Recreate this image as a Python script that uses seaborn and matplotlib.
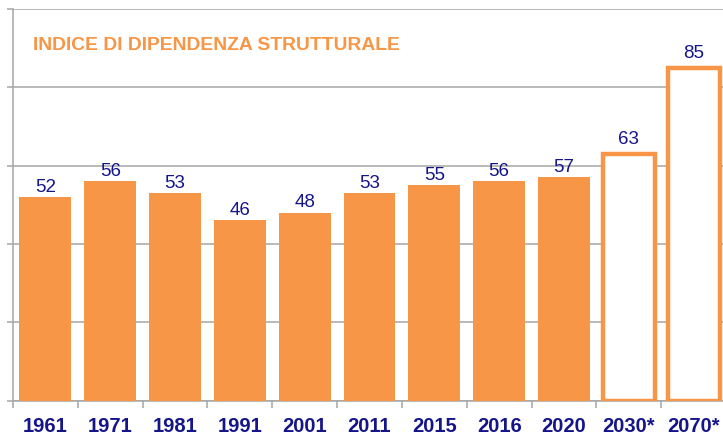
import matplotlib
matplotlib.use("Agg")
import matplotlib.pyplot as plt
import seaborn as sns
import pandas as pd
import numpy as np

# Structural dependency index by year (* = projection)
years = ["1961", "1971", "1981", "1991", "2001", "2011", "2015", "2016", "2020", "2030*", "2070*"]
values = [52, 56, 53, 46, 48, 53, 55, 56, 57, 63, 85]
projected = [False] * 9 + [True, True]

ORANGE = "#F79646"
NAVY = "#15158A"
GRID = "#A6A6A6"

sns.set_theme(style="white")
plt.rcParams["font.family"] = ["Liberation Sans", "DejaVu Sans"]

df = pd.DataFrame({"anno": years, "indice": values, "proiezione": projected})

fig = plt.figure(figsize=(7.23, 4.37), dpi=100)
ax = fig.add_axes([13 / 723, 36.5 / 437, 713 / 723, 391.5 / 437])

sns.barplot(data=df, x="anno", y="indice", color=ORANGE, saturation=1,
            width=0.8, ax=ax, zorder=3)

# projected years are drawn as outlined bars
for patch, proj in zip(ax.patches, df["proiezione"]):
    patch.set_edgecolor(ORANGE)
    if proj:
        patch.set_facecolor("white")
        patch.set_linewidth(3.2)
        patch.set_joinstyle("miter")
    else:
        patch.set_linewidth(0)

for i, (v, proj) in enumerate(zip(df["indice"], df["proiezione"])):
    ax.annotate(str(v), (i, v), xytext=(0, 4 if proj else 1),
                textcoords="offset points", ha="center", va="bottom",
                fontsize=13.5, color=NAVY, zorder=5)

ax.set_ylim(0, 100)
ax.set_xlim(-0.5, len(years) - 0.5)
ax.set_yticks(np.arange(0, 101, 20))
ax.set_yticklabels([])
ax.yaxis.grid(True, color=GRID, linewidth=1.1)
ax.set_axisbelow(True)

ax.set_xlabel("")
ax.set_ylabel("")
ax.tick_params(axis="x", which="major", length=0, pad=12,
               labelsize=14.5, labelcolor=NAVY)
for lbl in ax.get_xticklabels():
    lbl.set_fontweight("bold")
ax.set_xticks(np.arange(-0.5, len(years), 1), minor=True)
ax.tick_params(axis="x", which="minor", length=5, width=1.1, color=GRID,
               direction="out", bottom=True)
ax.tick_params(axis="y", length=4, width=1.1, color=GRID, direction="out", left=True)

for side in ["top", "right"]:
    ax.spines[side].set_visible(False)
for side in ["left", "bottom"]:
    ax.spines[side].set_color(GRID)
    ax.spines[side].set_linewidth(1.1)

fig.text(33 / 723, 1 - 46 / 437, "INDICE DI DIPENDENZA STRUTTURALE",
         color=ORANGE, fontsize=13.9, fontweight="bold", ha="left", va="center")

fig.savefig("out.png", dpi=100)
